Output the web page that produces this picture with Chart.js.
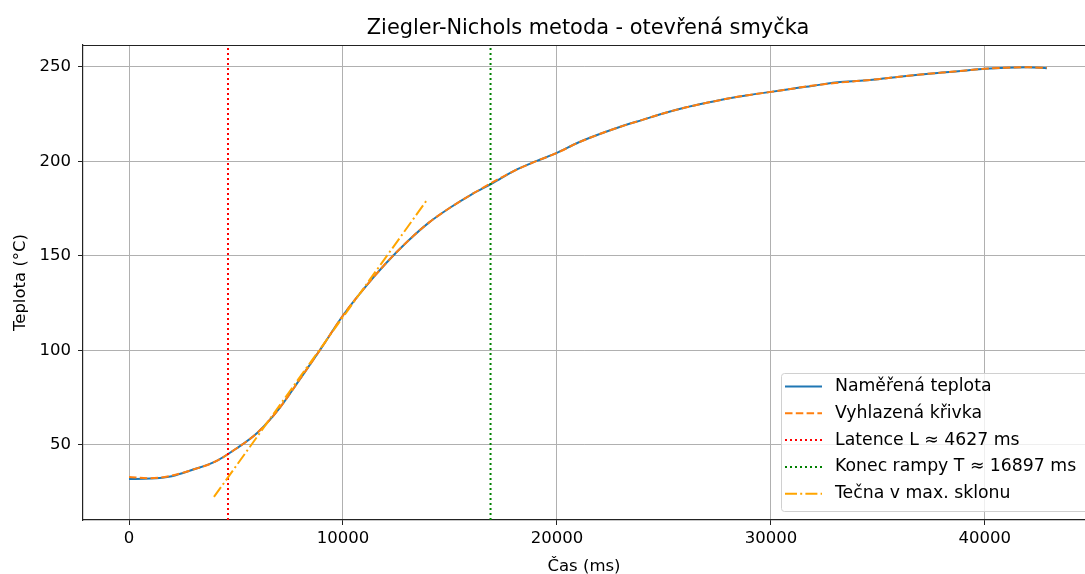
<!DOCTYPE html>
<html>
<head>
<meta charset="utf-8">
<script src="https://cdn.jsdelivr.net/npm/chart.js@4/dist/chart.umd.min.js"></script>
<style>
  html, body { margin: 0; padding: 0; background: #fff; overflow: hidden; }
  #wrap { width: 1085px; height: 574px; }
</style>
</head>
<body>
<div id="wrap"><canvas id="znChart" width="1085" height="574"></canvas></div>
<script>
// Data
const timeMs = [0, 1000, 2000, 3000, 4000, 5000, 6000, 7000, 8000, 9000, 10000,
    11000, 12000, 13000, 14000, 15000, 16000, 17000, 18000, 19000, 20000,
    21000, 22000, 23000, 24000, 25000, 26000, 27000, 28000, 29000, 30000,
    31000, 32000, 33000, 34000, 35000, 36000, 37000, 38000, 39000, 40000,
    41000, 42000, 42900];
const measuredTemp = [32, 32.2, 33.5, 37, 41, 48, 56.5, 69, 85, 101.5, 118.5,
    133, 146, 157.5, 167.5, 175.5, 182.5, 188.5, 195, 200, 204.5,
    210, 214.5, 218.5, 222, 225.5, 228.5, 231, 233.3, 235.2, 236.8,
    238.5, 240, 241.8, 242.5, 243.5, 244.8, 246, 247, 248, 249,
    249.6, 249.8, 249.3];
const smoothedTemp = [33, 32.4, 33.8, 37, 41, 48, 56.5, 69, 85, 101.5, 118.5,
    133, 146, 157.5, 167.5, 175.5, 182.5, 189, 195, 200, 204.5,
    210, 214.5, 218.5, 222, 225.5, 228.5, 231, 233.3, 235.2, 236.8,
    238.5, 240.2, 241.5, 242.5, 243.5, 244.8, 246, 247, 248, 249,
    249.6, 249.8, 249.5];
const tangentTime = [3970, 13925];
const tangentTemp = [22.5, 179.6];
const latencyMs = 4627;
const rampEndMs = 16897;
const xTicks = [0, 10000, 20000, 30000, 40000];
const yTicks = [50, 100, 150, 200, 250];
const xRange = [-2150, 44680];
const yRange = [10.3, 261.6];

const FONT = "'DejaVu Sans', sans-serif";
const FS = 16.5;

const toPoints = (xs, ys) => xs.map((x, i) => ({ x: x, y: ys[i] }));

// Top spine, title and matplotlib-like legend
const frameAndLegend = {
    id: 'frameAndLegend',
    afterDraw(chart) {
        const ctx = chart.ctx;
        const a = chart.chartArea;
        ctx.save();
        ctx.strokeStyle = '#222';
        ctx.lineWidth = 1.2;
        ctx.beginPath();
        ctx.moveTo(a.left, a.top + 0.5);
        ctx.lineTo(a.right, a.top + 0.5);
        ctx.stroke();

        // title
        ctx.fillStyle = '#000';
        ctx.font = '20.9px ' + FONT;
        ctx.textAlign = 'center';
        ctx.textBaseline = 'middle';
        ctx.fillText('Ziegler-Nichols metoda - otevřená smyčka', 588, 29);

        // legend box
        const bx = 781, by = 373, bw = 320, bh = 138;
        ctx.fillStyle = 'rgba(255,255,255,0.8)';
        ctx.strokeStyle = '#d0d0d0';
        ctx.lineWidth = 1;
        ctx.beginPath();
        ctx.roundRect(bx + 0.5, by + 0.5, bw, bh, 3);
        ctx.fill();
        ctx.stroke();

        const items = [0, 1, 2, 3, 4].map(i => chart.data.datasets[i]);
        ctx.font = '17.3px ' + FONT;
        ctx.textAlign = 'left';
        items.forEach((ds, i) => {
            const y = 386.5 + i * 26.8;
            ctx.strokeStyle = ds.borderColor;
            ctx.lineWidth = ds.borderWidth;
            ctx.setLineDash(ds.borderDash || []);
            ctx.beginPath();
            ctx.moveTo(785, y);
            ctx.lineTo(822, y);
            ctx.stroke();
            ctx.setLineDash([]);
            ctx.fillStyle = '#000';
            ctx.fillText(ds.label, 835, y);
        });
        ctx.restore();
    }
};

new Chart(document.getElementById('znChart'), {
    type: 'line',
    data: {
        datasets: [
            {
                label: 'Naměřená teplota',
                data: toPoints(timeMs, measuredTemp),
                borderColor: '#1f77b4',
                borderWidth: 2,
                cubicInterpolationMode: 'monotone',
                order: 5,
            },
            {
                label: 'Vyhlazená křivka',
                data: toPoints(timeMs, smoothedTemp),
                borderColor: '#ff7f0e',
                borderWidth: 2,
                borderDash: [7.5, 3.3],
                cubicInterpolationMode: 'monotone',
                order: 4,
            },
            {
                label: 'Latence L ≈ ' + latencyMs + ' ms',
                data: toPoints([latencyMs, latencyMs], yRange),
                borderColor: '#ff0000',
                borderWidth: 2,
                borderDash: [2, 3],
                order: 3,
            },
            {
                label: 'Konec rampy T ≈ ' + rampEndMs + ' ms',
                data: toPoints([rampEndMs, rampEndMs], yRange),
                borderColor: '#008000',
                borderWidth: 2,
                borderDash: [2, 3],
                order: 2,
            },
            {
                label: 'Tečna v max. sklonu',
                data: toPoints(tangentTime, tangentTemp),
                borderColor: '#ffa500',
                borderWidth: 2,
                borderDash: [12, 3.2, 2, 3.2],
                order: 1,
            },
        ],
    },
    options: {
        responsive: false,
        animation: false,
        layout: { padding: { top: 45, right: 0, bottom: 0, left: 0 } },
        elements: {
            point: { radius: 0 },
            line: { fill: false },
        },
        plugins: {
            legend: { display: false },
            title: { display: false },
            tooltip: { enabled: false },
        },
        scales: {
            x: {
                type: 'linear',
                min: xRange[0],
                max: xRange[1],
                afterBuildTicks: (s) => { s.ticks = xTicks.map(v => ({ value: v })); },
                afterFit: (s) => { s.height = 54; },
                grid: { color: '#b0b0b0', lineWidth: 1, tickLength: 5, tickColor: '#222' },
                border: { display: true, color: '#222', width: 1.2 },
                ticks: {
                    color: '#000', padding: 4, maxRotation: 0,
                    font: { family: FONT, size: FS },
                    callback: (v) => String(v),
                },
                title: {
                    display: true,
                    text: 'Čas (ms)',
                    color: '#000',
                    font: { family: FONT, size: FS },
                    padding: { top: 0, bottom: -3 },
                },
            },
            y: {
                type: 'linear',
                min: yRange[0],
                max: yRange[1],
                afterBuildTicks: (s) => { s.ticks = yTicks.map(v => ({ value: v })); },
                afterFit: (s) => { s.width = 83; },
                grid: { color: '#b0b0b0', lineWidth: 1, tickLength: 5, tickColor: '#222' },
                border: { display: true, color: '#222', width: 1.2 },
                ticks: {
                    color: '#000', padding: 7,
                    font: { family: FONT, size: FS },
                    callback: (v) => String(v),
                },
                title: {
                    display: true,
                    text: 'Teplota (°C)',
                    color: '#000',
                    font: { family: FONT, size: FS },
                    padding: { top: 11, bottom: 0 },
                },
            },
        },
    },
    plugins: [frameAndLegend],
});
</script>
</body>
</html>
